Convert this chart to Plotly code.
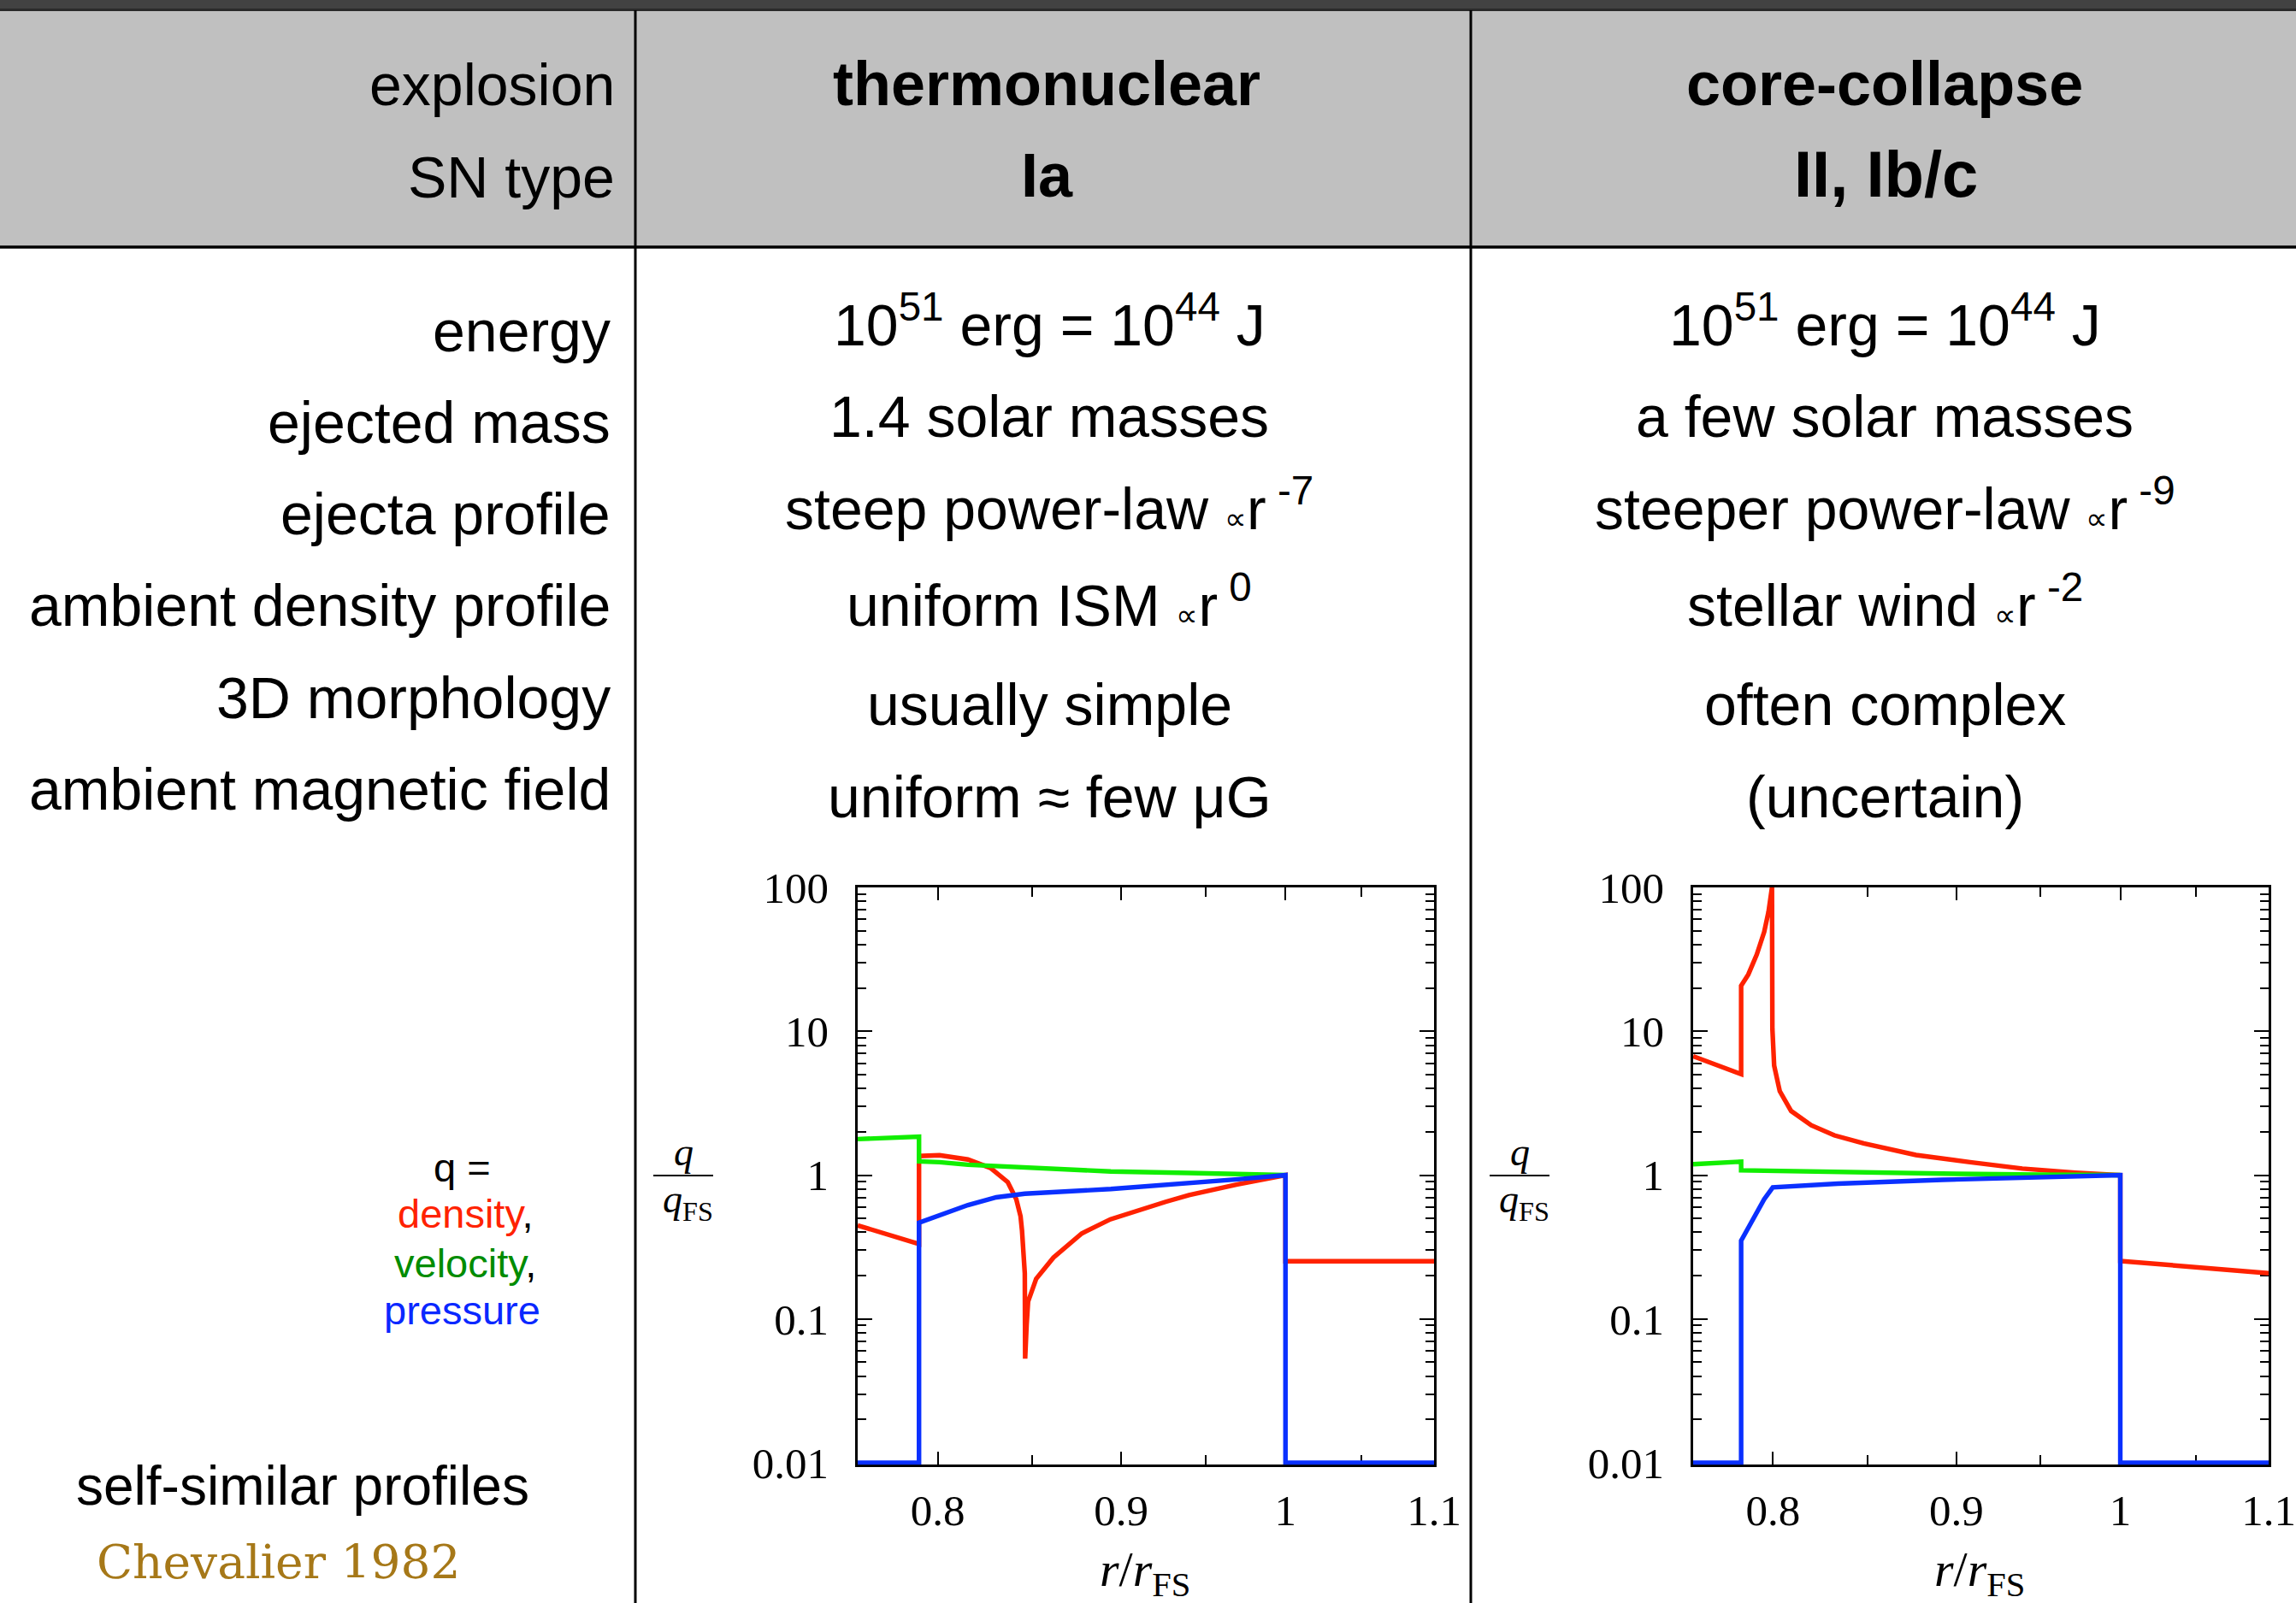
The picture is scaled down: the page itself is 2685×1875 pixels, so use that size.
import plotly.graph_objects as go
import math

W, H = 2685, 1875

# ---------------- data ----------------
# Thermonuclear (Ia): r/r_FS and q/q_FS
ia_density_r = [0.76, 0.7905, 0.7905, 0.801, 0.8157, 0.8276, 0.8368, 0.8414, 0.8437, 0.8445, 0.8460, 0.8462,
                0.8470, 0.8478, 0.8522, 0.8617, 0.8775, 0.8938, 0.926, 0.940, 0.969, 1.0, 1.0, 1.1]
ia_density_q = [0.447, 0.332, 1.357, 1.375, 1.284, 1.12, 0.893, 0.679, 0.517, 0.411, 0.208, 0.053,
                0.091, 0.132, 0.190, 0.267, 0.393, 0.493, 0.652, 0.726, 0.86, 1.0, 0.252, 0.252]
ia_velocity_r = [0.76, 0.7905, 0.7905, 0.801, 0.8157, 0.846, 0.894, 0.94, 0.97, 1.0]
ia_velocity_q = [1.78, 1.85, 1.245, 1.23, 1.18, 1.13, 1.061, 1.035, 1.015, 1.0]
ia_pressure_r = [0.76, 0.7905, 0.7905, 0.801, 0.8157, 0.8307, 0.846, 0.894, 0.94, 0.97, 1.0, 1.0, 1.1]
ia_pressure_q = [0.01, 0.01, 0.467, 0.528, 0.619, 0.701, 0.743, 0.80, 0.875, 0.935, 1.0, 0.01, 0.01]

# Core-collapse (II, Ib/c)
cc_density_r = [0.76, 0.7838, 0.7838, 0.7874, 0.7917, 0.7955, 0.7977, 0.7991, 0.7995, 0.7997, 0.8006, 0.8035,
                0.8094, 0.8199, 0.8322, 0.848, 0.877, 0.908, 0.939, 0.9716, 1.0, 1.0, 1.1]
cc_density_q = [6.71, 5.04, 20.7, 24.8, 34.1, 49.1, 67.6, 97.3, 100, 10.4, 5.77, 3.83,
                2.79, 2.22, 1.89, 1.66, 1.38, 1.23, 1.11, 1.04, 1.0, 0.253, 0.208]
cc_velocity_r = [0.76, 0.7838, 0.7838, 0.8475, 0.90, 0.95, 1.0]
cc_velocity_q = [1.19, 1.24, 1.08, 1.04, 1.02, 1.008, 1.0]
cc_pressure_r = [0.76, 0.7838, 0.7838, 0.790, 0.7955, 0.7999, 0.834, 0.892, 0.955, 1.0, 1.0, 1.1]
cc_pressure_q = [0.01, 0.01, 0.35, 0.49, 0.68, 0.822, 0.873, 0.927, 0.97, 1.0, 0.01, 0.01]

x_tickvals = [0.8, 0.9, 1.0, 1.1]
x_ticktext = ["0.8", "0.9", "1", "1.1"]
x_minorvals = [0.85, 0.95, 1.05]
y_tickvals = [0.01, 0.1, 1, 10, 100]
y_ticktext = ["0.01", "0.1", "1", "10", "100"]

row_labels = ["energy", "ejected mass", "ejecta profile", "ambient density profile",
              "3D morphology", "ambient magnetic field"]
prop = "<span style='font-size:36px'>∝</span>"
ia_texts = ["10<sup>51</sup> erg = 10<sup>44</sup> J", "1.4 solar masses",
            "steep power-law " + prop + "r<sup> -7</sup>", "uniform ISM " + prop + "r<sup> 0</sup>",
            "usually simple", "uniform ≈ few μG"]
cc_texts = ["10<sup>51</sup> erg = 10<sup>44</sup> J", "a few solar masses",
            "steeper power-law " + prop + "r<sup> -9</sup>", "stellar wind " + prop + "r<sup> -2</sup>",
            "often complex", "(uncertain)"]

RED, GREEN, BLUE = "#ff2200", "#11ee00", "#0a30ff"
SANS = "Liberation Sans"
SERIF = "Liberation Serif"

fig = go.Figure()

def add_lines(r, q, color, xa, ya):
    fig.add_trace(go.Scatter(x=r, y=q, mode="lines", xaxis=xa, yaxis=ya,
                             line=dict(color=color, width=5.4), hoverinfo="skip"))

add_lines(ia_density_r, ia_density_q, RED, "x", "y")
add_lines(ia_velocity_r, ia_velocity_q, GREEN, "x", "y")
add_lines(ia_pressure_r, ia_pressure_q, BLUE, "x", "y")
add_lines(cc_density_r, cc_density_q, RED, "x2", "y2")
add_lines(cc_velocity_r, cc_velocity_q, GREEN, "x2", "y2")
add_lines(cc_pressure_r, cc_pressure_q, BLUE, "x2", "y2")

y_minor = [m * 10 ** e for e in range(-2, 2) for m in range(2, 10)]

def xaxis(domain, anchor):
    return dict(type="log", domain=domain, anchor=anchor, automargin=False,
                range=[math.log10(0.76), math.log10(1.1)],
                tickmode="array", tickvals=x_tickvals, ticktext=x_ticktext,
                ticks="inside", ticklen=15, tickwidth=2, tickcolor="black",
                minor=dict(tickmode="array", tickvals=x_minorvals, ticks="inside",
                           ticklen=11, tickwidth=2, tickcolor="black", showgrid=False),
                showline=True, linecolor="black", linewidth=2.5, mirror="ticks",
                showgrid=False, zeroline=False, layer="below traces",
                tickfont=dict(family=SERIF, size=51, color="black"),
                ticklabelstandoff=7)

def yaxis(domain, anchor):
    return dict(type="log", domain=domain, anchor=anchor, automargin=False, range=[-2.013, 2],
                tickmode="array", tickvals=y_tickvals, ticktext=y_ticktext,
                ticks="inside", ticklen=17, tickwidth=2, tickcolor="black",
                minor=dict(tickmode="array", tickvals=y_minor, ticks="inside",
                           ticklen=10, tickwidth=2, tickcolor="black", showgrid=False),
                showline=True, linecolor="black", linewidth=2.5, mirror="ticks",
                showgrid=False, zeroline=False, layer="below traces",
                tickfont=dict(family=SERIF, size=51, color="black"),
                ticklabelstandoff=21)

ydom = [(H - 1713.2) / H, (H - 1038) / H]
fig.update_layout(
    width=W, height=H, margin=dict(l=0, r=0, t=0, b=0, pad=0, autoexpand=False),
    paper_bgcolor="white", plot_bgcolor="white", showlegend=False,
    xaxis=xaxis([1003 / W, 1677 / W], "y"),
    yaxis=yaxis(ydom, "x"),
    xaxis2=xaxis([1980 / W, 2653 / W], "y2"),
    yaxis2=yaxis(ydom, "x2"),
)

# ---------------- shapes (table frame) ----------------
def px_x(x):
    return x / W

def px_y(y):
    return 1 - y / H

shapes = []
shapes.append(dict(type="rect", xref="paper", yref="paper", x0=0, x1=1, y0=px_y(288), y1=px_y(11),
                   fillcolor="#c0c0c0", line=dict(width=0), layer="below"))
shapes.append(dict(type="rect", xref="paper", yref="paper", x0=0, x1=1, y0=px_y(10), y1=1,
                   fillcolor="#424242", line=dict(width=0), layer="below"))
shapes.append(dict(type="rect", xref="paper", yref="paper", x0=0, x1=1, y0=px_y(13), y1=px_y(10),
                   fillcolor="#2a2a2a", line=dict(width=0), layer="below"))
shapes.append(dict(type="line", xref="paper", yref="paper", x0=0, x1=1, y0=px_y(289), y1=px_y(289),
                   line=dict(color="black", width=3.4)))
for vx in [743, 1720]:
    shapes.append(dict(type="line", xref="paper", yref="paper", x0=px_x(vx), x1=px_x(vx),
                       y0=0, y1=px_y(12), line=dict(color="black", width=3)))
# fraction bars for y-axis titles
BAR_Y = 1375
for cx in [799, 1777]:
    shapes.append(dict(type="line", xref="paper", yref="paper", x0=px_x(cx - 35), x1=px_x(cx + 35),
                       y0=px_y(BAR_Y), y1=px_y(BAR_Y), line=dict(color="black", width=2)))
fig.update_layout(shapes=shapes)

# ---------------- annotations ----------------
anns = []

def ann(text, x, base, size, family=SANS, color="black", xanchor="center"):
    ybot = base + 0.215 * size
    anns.append(dict(text=text, x=px_x(x), y=px_y(ybot), xref="paper", yref="paper",
                     xanchor=xanchor, yanchor="bottom", showarrow=False, borderpad=0, borderwidth=0,
                     font=dict(family=family, size=size, color=color)))

def ann_box(text, x, ypix, yanchor, size, family=SERIF):
    anns.append(dict(text=text, x=px_x(x), y=px_y(ypix), xref="paper", yref="paper",
                     xanchor="center", yanchor=yanchor, showarrow=False, borderpad=0, borderwidth=0,
                     font=dict(family=family, size=size, color="black")))

# header
ann("explosion", 719, 122, 68, xanchor="right")
ann("SN type", 719, 230, 68, xanchor="right")
ann("<b>thermonuclear</b>", 1224, 123, 72)
ann("<b>Ia</b>", 1224, 230, 72)
ann("<b>core-collapse</b>", 2204, 123, 72)
ann("<b>II, Ib/c</b>", 2205, 230, 76)

left_bases = [410, 517, 624, 731, 839, 946]
body_bases = [403, 510, 618, 731, 847, 955]
for lab, yb in zip(row_labels, left_bases):
    ann(lab, 714, yb, 68, xanchor="right")
for t, yb in zip(ia_texts, body_bases):
    ann(t, 1227, yb, 68)
for t, yb in zip(cc_texts, body_bases):
    ann(t, 2204, yb, 68)

# q legend
ann("q =", 540, 1382, 47)
ann("<span style='color:#ff2200'>density</span>,", 544, 1436, 47)
ann("<span style='color:#008c00'>velocity</span>,", 544, 1494, 47)
ann("<span style='color:#0a28ff'>pressure</span>", 540, 1549, 47)

ann("self-similar profiles", 354, 1760, 64)
ann("Chevalier 1982", 325, 1847, 55, family="DejaVu Serif", color="#a67818")

# axis titles (fraction q / q_FS)
for cx in [799, 1777]:
    ann_box("<i>q</i>", cx, BAR_Y - 2, "bottom", 46)
    ann_box("<i>q</i><sub>FS</sub>", cx + 5, BAR_Y + 2, "top", 46)
for cx in [1339, 2315]:
    ann("<i>r</i>/<i>r</i><sub>FS</sub>", cx, 1864, 58, family=SERIF)

fig.update_layout(annotations=anns)

fig.write_html("out.html")
